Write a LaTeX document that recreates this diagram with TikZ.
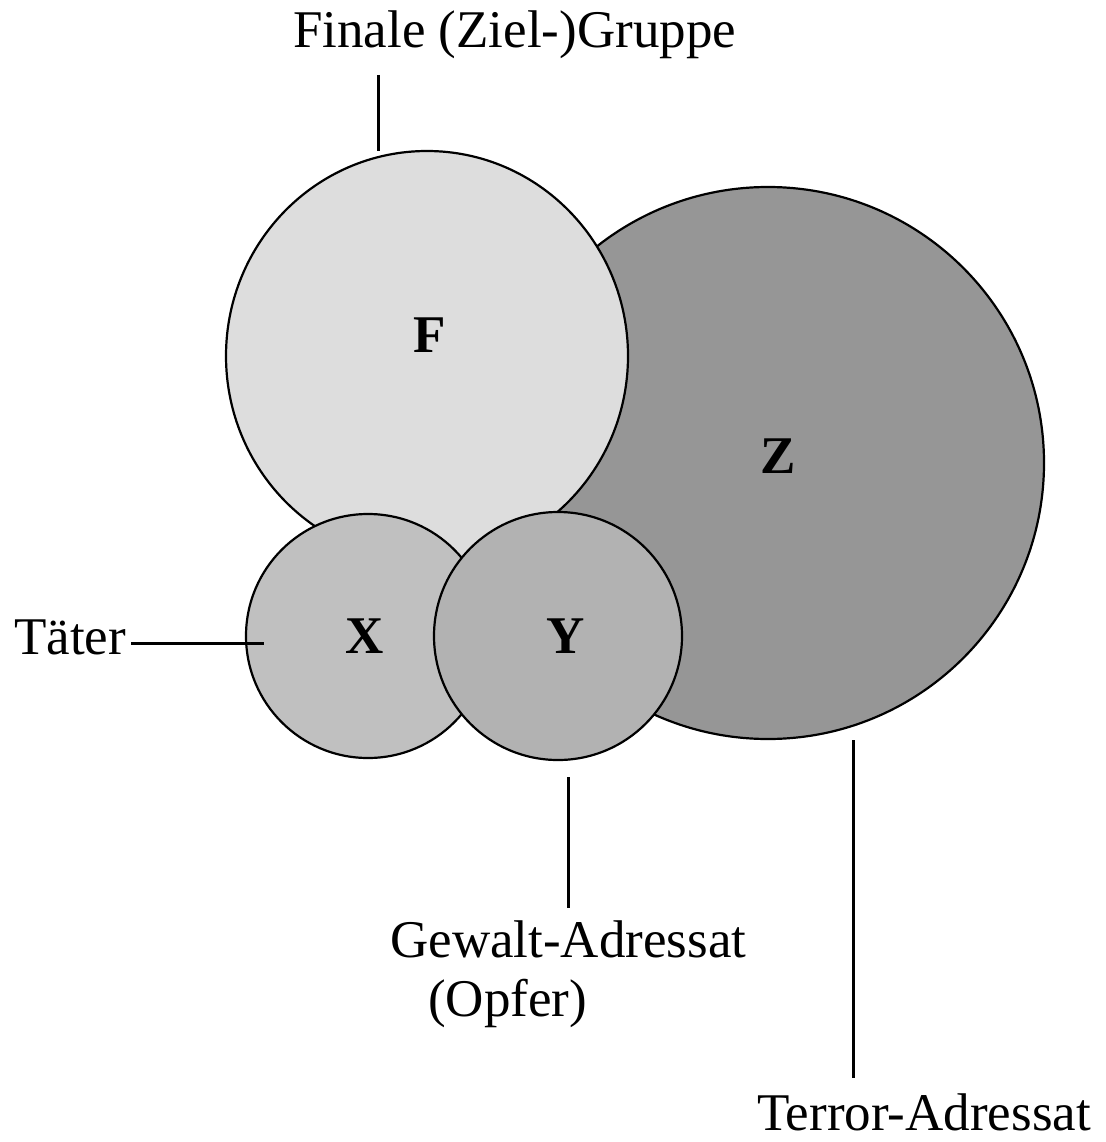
\documentclass[tikz,border=0pt]{standalone}
\usepackage{fontspec}
\usetikzlibrary{shapes.geometric}
\setmainfont{Liberation Serif}
\begin{document}
\begin{tikzpicture}[x=1pt,y=-1pt,
  disc/.style={circle,draw=black,line width=2.2pt,inner sep=0pt},
  txt/.style={inner sep=0pt,font=\fontsize{53}{58}\selectfont},
  letter/.style={inner sep=0pt,anchor=base,font=\fontsize{53}{58}\selectfont\bfseries},
  leader/.style={line width=3pt}]
\useasboundingbox (0,0) rectangle (1105,1142);
% circles
\node[disc,fill={rgb,255:red,150;green,150;blue,150},minimum size=552pt] (Zc) at (768,463) {};
\node[disc,ellipse,fill={rgb,255:red,221;green,221;blue,221},minimum width=402pt,minimum height=410pt] (Fc) at (427,356) {};
\node[disc,fill={rgb,255:red,192;green,192;blue,192},minimum size=244pt] (Xc) at (368,636) {};
\node[disc,fill={rgb,255:red,178;green,178;blue,178},minimum size=248pt] (Yc) at (558,636) {};
% letters
\node[letter] (Fl) at (430,352) {F};
\node[letter] (Zl) at (778,473) {Z};
\node[letter] (Xl) at (365,653) {X};
\node[letter] (Yl) at (566,653) {Y};
% labels
\node[txt,anchor=base west] (fin) at (293,48) {Finale (Ziel-)Gruppe};
\node[txt,anchor=base west] (tat) at (14,654) {Täter};
\node[txt,anchor=base west] (gew) at (390,957) {Gewalt-Adressat};
\node[txt,anchor=base west] (opf) at (428,1016) {(Opfer)};
\node[txt,anchor=base west] (ter) at (757,1130) {Terror-Adressat};
% leader end points
\coordinate (finA) at (378,75);
\coordinate (finB) at (378,151);
\coordinate (tatA) at (131,643);
\coordinate (tatB) at (264,643);
\coordinate (gewA) at (568,777);
\coordinate (gewB) at (568,908);
\coordinate (terA) at (853,740);
\coordinate (terB) at (853,1078);
\draw[leader] (finA) -- (finB);
\draw[leader] (tatA) -- (tatB);
\draw[leader] (gewA) -- (gewB);
\draw[leader] (terA) -- (terB);
\end{tikzpicture}
\end{document}
